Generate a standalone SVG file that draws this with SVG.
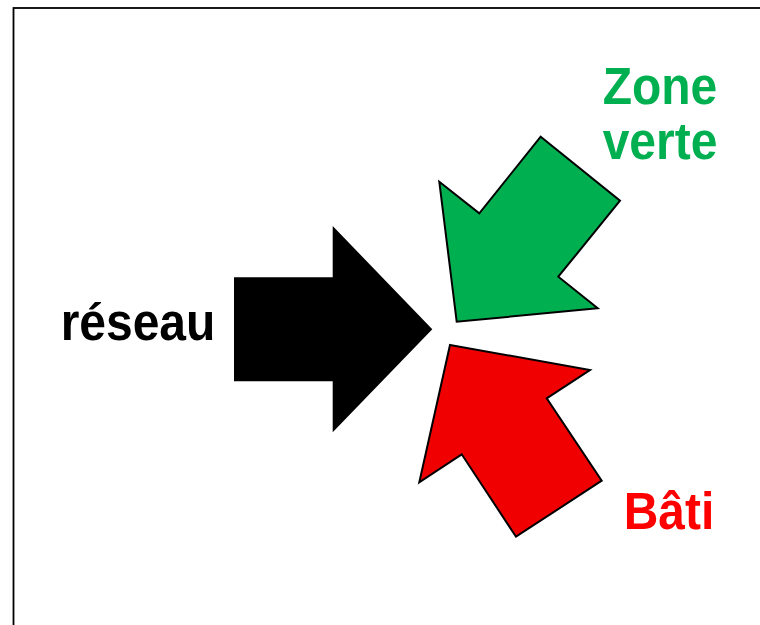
<svg xmlns="http://www.w3.org/2000/svg" width="760" height="625" viewBox="0 0 760 625">
  <style>
    .lbl { font-family: "Liberation Sans", Arial, sans-serif; font-weight: bold; font-size: 48px; text-anchor: middle; }
    .arrow { stroke: #000; stroke-width: 2; stroke-linejoin: miter; }
  </style>
  <rect x="0" y="0" width="760" height="625" fill="#fff"/>
  <!-- page frame, running past the right and bottom edges -->
  <rect x="13.5" y="8" width="800" height="700" fill="none" stroke="#000" stroke-width="1.8"/>

  <g id="reseau">
    <polygon points="234,277.3 332.7,277.3 332.7,226 432.3,329.3 332.7,432.3 332.7,381.3 234,381.3" fill="#000"/>
    <text class="lbl" transform="translate(138,340) scale(1,1.08)" fill="#000">réseau</text>
  </g>

  <g id="zone-verte">
    <polygon class="arrow" points="540.7,136.7 620,200.7 558.3,276.7 597.7,308.3 456.7,321.7 439.3,181.7 479.3,213.3" fill="#00B050"/>
    <text class="lbl" transform="translate(660,104) scale(1,1.08)" fill="#00B050">Zone</text>
    <text class="lbl" transform="translate(660,158.5) scale(1,1.08)" fill="#00B050">verte</text>
  </g>

  <g id="bati">
    <polygon class="arrow" points="450,345 590,370 546.7,398.3 601.7,480.7 516,536.7 461.7,454.3 419.3,482.3" fill="#F00000"/>
    <text class="lbl" transform="translate(669,529) scale(1,1.08)" fill="#FF0000">Bâti</text>
  </g>

  <g id="connectors"/>
</svg>
